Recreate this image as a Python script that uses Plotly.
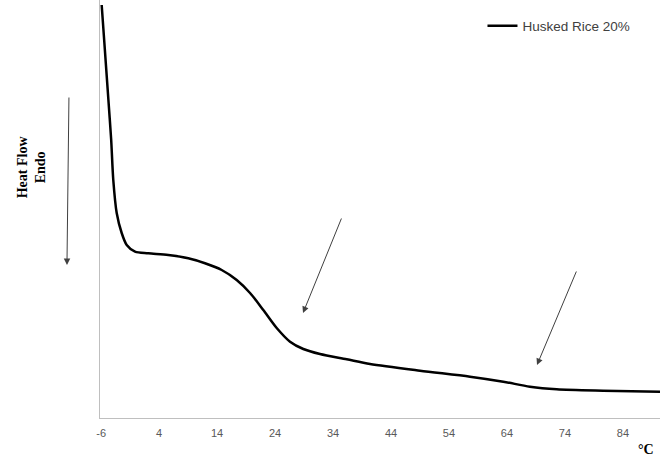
import plotly.graph_objects as go

# Temperature (°C) and heat flow (arbitrary units)
temperature = [-5.91, -5.48, -4.75, -4.27, -3.91, -3.32, -2.46, -1.59, -0.16, 2.13,
               5.58, 9.03, 11.91, 14.79, 17.38, 19.68, 21.97, 24.28, 26.58, 28.87,
               31.75, 36.36, 40.38, 49.0, 57.63, 63.37, 67.97, 72.58, 80.57, 90.4]
heat_flow = [41.3, 37.8, 31.8, 27.8, 23.8, 20.5, 18.5, 17.3, 16.63, 16.47,
             16.3, 15.97, 15.47, 14.8, 13.8, 12.5, 10.8, 9.0, 7.63, 6.9,
             6.4, 5.87, 5.4, 4.73, 4.13, 3.63, 3.13, 2.87, 2.73, 2.63]
tick_values = [-6, 4, 14, 24, 34, 44, 54, 64, 74, 84]
series_name = "Husked Rice 20%"

fig = go.Figure()
fig.add_trace(go.Scatter(
    x=temperature, y=heat_flow, mode="lines", name=series_name,
    line=dict(color="black", width=2.5, shape="spline", smoothing=0.8),
))

axis_color = "#BFBFBF"
fig.update_layout(
    width=661, height=463,
    margin=dict(l=100, r=1, t=0, b=45),
    paper_bgcolor="white", plot_bgcolor="white",
    showlegend=True,
    legend=dict(x=0.683, y=0.975, xanchor="left", yanchor="top",
                font=dict(family="Liberation Sans", size=13.5, color="#404040"),
                bgcolor="rgba(0,0,0,0)", itemwidth=30),
    xaxis=dict(range=[-6.2, 90.4], tickmode="array", tickvals=tick_values,
               ticktext=[str(v) for v in tick_values],
               showgrid=False, zeroline=False, showline=True, linecolor=axis_color,
               linewidth=1, ticks="", ticklabelstandoff=5,
               tickfont=dict(family="Liberation Sans", size=11, color="#595959")),
    yaxis=dict(range=[0, 41.8], showgrid=False, zeroline=False, showline=True,
               linecolor=axis_color, linewidth=1, showticklabels=False, ticks=""),
)

arrow_color = "#404040"
# Arrows pointing at transitions
for hx, hy, tx, ty in [(28.82, 10.5, 35.55, 20.1), (69.18, 5.3, 76.08, 14.8)]:
    fig.add_annotation(x=hx, y=hy, ax=tx, ay=ty, xref="x", yref="y", axref="x", ayref="y",
                       showarrow=True, arrowhead=2, arrowsize=1.3, arrowwidth=1,
                       arrowcolor=arrow_color, text="")
# Endo arrow
fig.add_annotation(x=-0.059, y=0.366, ax=2, ay=-169, xref="paper", yref="paper",
                   axref="pixel", ayref="pixel", showarrow=True, arrowhead=2, arrowsize=1.3,
                   arrowwidth=1, arrowcolor=arrow_color, text="")
# Y title
fig.add_annotation(x=-0.123, y=0.6, xref="paper", yref="paper", text="<b>Heat Flow<br>Endo</b>",
                   textangle=-90, showarrow=False, xanchor="center", yanchor="middle",
                   font=dict(family="Liberation Serif", size=14, color="black"))
# Unit label
fig.add_annotation(x=0.993, y=-0.075, xref="paper", yref="paper", text="<b>°C</b>",
                   xanchor="right", yanchor="middle", showarrow=False,
                   font=dict(family="Liberation Serif", size=14, color="black"))

fig.write_html("out.html")
